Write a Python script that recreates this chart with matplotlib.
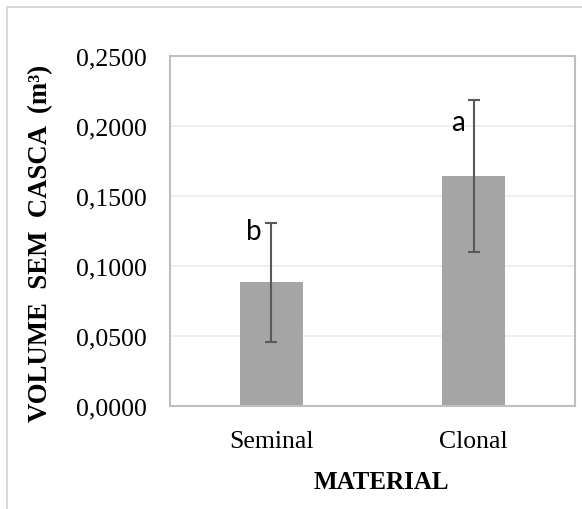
import matplotlib
matplotlib.use("Agg")
import matplotlib.pyplot as plt
from matplotlib.patches import Rectangle

categories = ["Seminal", "Clonal"]
values = [0.0884, 0.1643]
errors = [0.0424, 0.0540]
letters = ["b", "a"]
letter_x_offset = [-0.085, -0.08]
letter_y = [0.1195, 0.1968]
yticks = [0.0, 0.05, 0.10, 0.15, 0.20, 0.25]
ytick_labels = ["0,0000", "0,0500", "0,1000", "0,1500", "0,2000", "0,2500"]

W, H = 582, 510
fig = plt.figure(figsize=(W / 100, H / 100), dpi=100)
fig.patch.set_facecolor("white")

# outer chart border
fig.add_artist(Rectangle((7 / W, -0.05), 1.2, (H - 8) / H + 0.05, transform=fig.transFigure,
                         fill=False, edgecolor="#d9d9d9", linewidth=1.5))

ax = fig.add_axes([170 / W, (H - 407) / H, 405 / W, 350 / H])
x = list(range(len(categories)))
ax.bar(x, values, width=0.31, color="#a5a5a5", zorder=2)
ax.errorbar(x, values, yerr=errors, fmt="none", ecolor="#595959", elinewidth=1.5,
            capsize=4.3, capthick=1.5, zorder=3)
for i, (lab, ly) in enumerate(zip(letters, letter_y)):
    ax.text(i + letter_x_offset[i], ly, lab, ha="center", va="baseline",
            fontsize=20, family="Lato", color="black", zorder=4)

ax.set_xlim(-0.5, 1.5)
ax.set_ylim(0, 0.25)
ax.set_yticks(yticks)
ax.set_yticklabels(ytick_labels, family="Liberation Serif", fontsize=18.5)
ax.set_xticks(x)
ax.set_xticklabels(categories, family="Liberation Serif", fontsize=18.5)
ax.tick_params(axis="y", length=0, pad=17)
ax.tick_params(axis="x", length=0, pad=17)
ax.yaxis.grid(True, color="#ebebeb", linewidth=1.2, zorder=0)
ax.set_axisbelow(True)
for s in ax.spines.values():
    s.set_color("#bfbfbf")
    s.set_linewidth(1.5)

fig.text(381 / W, 1 - 483 / H, "MATERIAL", ha="center", va="center",
         family="Liberation Serif", fontweight="bold", fontsize=18)
fig.text(41 / W, 1 - 243 / H, "VOLUME  SEM  CASCA  (m³)", ha="center", va="center",
         rotation=90, family="Liberation Serif", fontweight="bold", fontsize=19.3)

fig.savefig("out.png", dpi=100)
